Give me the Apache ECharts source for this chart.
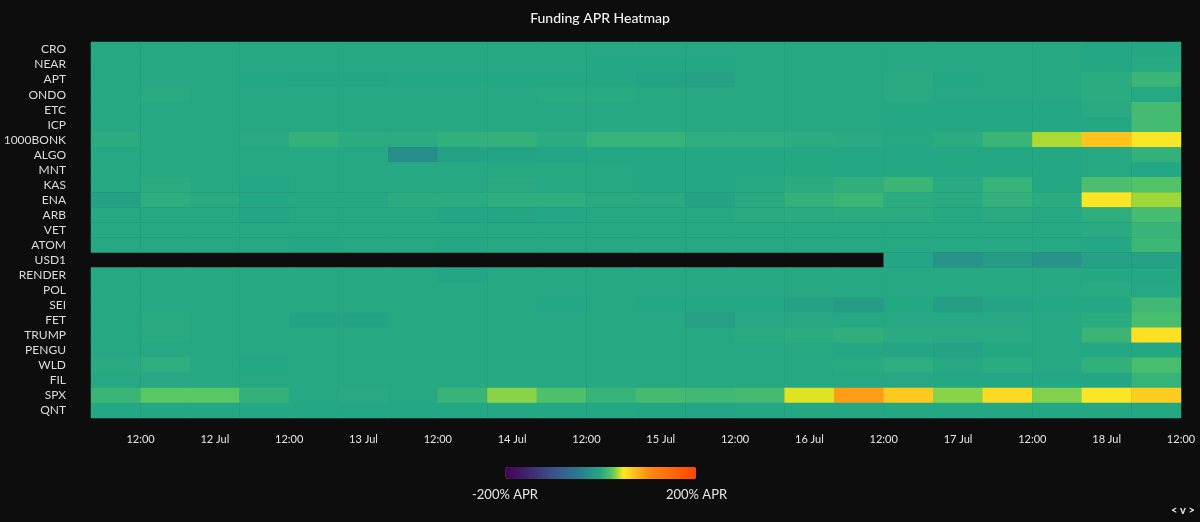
<!DOCTYPE html>
<html><head><meta charset="utf-8">
<style>html,body{margin:0;padding:0;background:#0d0d0d;overflow:hidden}#c{width:1200px;height:522px}</style>
<script src="https://cdn.jsdelivr.net/npm/echarts@6/dist/echarts.min.js"></script>
</head><body><div id="c"></div>
<script>
const FONT = 'Lato, sans-serif';
const columns = ['11 04h','11 12h','11 20h','12 04h','12 12h','12 20h','13 04h','13 12h','13 20h','14 04h','14 12h','14 20h','15 04h','15 12h','15 20h','16 04h','16 12h','16 20h','17 04h','17 12h','17 20h','18 04h'];
const timeLabels = ['','','12:00','','','12 Jul','','','12:00','','','13 Jul','','','12:00','','','14 Jul','','','12:00','','','15 Jul','','','12:00','','','16 Jul','','','12:00','','','17 Jul','','','12:00','','','18 Jul','','','12:00'];
const symbols = ['CRO','NEAR','APT','ONDO','ETC','ICP','1000BONK','ALGO','MNT','KAS','ENA','ARB','VET','ATOM','USD1','RENDER','POL','SEI','FET','TRUMP','PENGU','WLD','FIL','SPX','QNT'];
const CRO    = [1,1,1,1,1,1,1,1,1,1,1,1,1,1,1,1,1,1,1,1,0,0];
const NEAR   = [1,1,1,1,1,1,1,1,1,1,-1,0,0,1,1,1,1,1,1,1,0,2];
const APT    = [1,1,1,-1,-2,-2,0,0,0,0,0,-4,-6,1,1,1,2,0,1,1,3,10];
const ONDO   = [1,2,1,1,1,1,1,1,1,2,2,1,1,1,1,1,2,1,1,1,3,1];
const ETC    = [1,1,1,1,1,1,1,1,1,1,1,1,1,1,1,1,0,0,0,0,2,14];
const ICP    = [1,1,1,1,1,1,1,1,1,1,1,1,1,1,1,1,0,0,0,0,0,14];
const BONK   = [3,1,1,2,7,3,3,6,7,3,8,8,4,4,3,2,1,3,10,36,68,47];
const ALGO   = [1,1,1,1,1,1,-28,-6,-5,-3,-1,0,0,0,0,0,-1,0,0,0,1,7];
const MNT    = [1,1,1,1,1,1,1,1,1,1,1,0,0,0,0,0,0,0,0,0,1,-1];
const KAS    = [1,3,1,-1,1,1,1,1,2,1,1,0,0,1,3,5,10,2,8,0,17,20];
const ENA    = [-6,4,2,0,1,1,3,3,4,4,2,2,-4,2,7,10,3,2,7,3,47,34];
const ARB    = [1,1,1,-2,1,1,1,-2,-2,-1,1,1,1,2,2,3,3,1,2,1,4,15];
const VET    = [1,1,1,1,1,1,1,1,1,1,1,1,1,1,1,1,1,1,1,1,2,9];
const ATOM   = [1,1,1,1,-1,1,1,-1,1,1,1,1,1,1,1,1,1,1,1,1,0,11];
const USD1   = [null,null,null,null,null,null,null,null,null,null,null,null,null,null,null,null,-3,-22,-12,-22,-6,-6];
const RENDER = [1,1,1,1,1,1,1,-2,1,1,1,1,1,1,1,1,1,1,1,1,0,0];
const POL    = [1,1,1,1,1,1,1,1,1,1,1,1,1,1,1,1,1,1,1,1,2,1];
const SEI    = [1,1,1,1,1,1,1,1,1,-1,1,0,0,0,-6,-12,0,-10,-5,0,-1,12];
const FET    = [1,2,1,1,-5,-4,1,1,1,1,1,1,-9,1,1,1,1,1,1,1,3,16];
const TRUMP  = [1,2,1,1,1,1,1,1,1,1,1,1,1,2,3,5,2,2,2,1,10,52];
const PENGU  = [1,1,1,1,1,1,1,1,1,1,1,1,1,1,1,0,-2,-7,0,1,0,0];
const WLD    = [2,4,1,0,1,1,1,1,1,1,1,1,1,1,1,2,4,1,3,1,6,16];
const FIL    = [1,1,1,1,1,1,1,1,1,1,1,1,1,1,1,1,1,0,-1,-1,-2,8];
const SPX    = [10,23,23,7,1,2,1,9,31,18,8,14,12,14,43,90,65,31,55,30,47,62];
const QNT    = [-1,-1,-1,-1,0,0,0,0,0,0,0,-2,-3,0,0,0,0,0,0,0,0,0];
const rows = [CRO,NEAR,APT,ONDO,ETC,ICP,BONK,ALGO,MNT,KAS,ENA,ARB,VET,ATOM,USD1,RENDER,POL,SEI,FET,TRUMP,PENGU,WLD,FIL,SPX,QNT];
const colorStops = [[-200,'#440154'],[-100,'#3b528b'],[-50,'#2a788e'],[0,'#24a884'],[25,'#5ec962'],[40,'#c8e020'],[47,'#fde725'],[100,'#ff8c10'],[200,'#ff4500']];

function rgb(h){return [1,3,5].map(i=>parseInt(h.slice(i,i+2),16));}
const ramp=[];
for(let v=-200;v<=200;v+=2.5){
  let k=0; while(k<colorStops.length-2&&v>colorStops[k+1][0])k++;
  const [a,ca]=colorStops[k],[b,cb]=colorStops[k+1],t=(v-a)/(b-a),A=rgb(ca),B=rgb(cb);
  ramp.push('rgb('+A.map((x,i)=>Math.round(x+(B[i]-x)*t)).join(',')+')');
}
const cells=[];
rows.forEach((r,y)=>r.forEach((v,x)=>{if(v!==null)cells.push([x,y,v]);}));

const chart=echarts.init(document.getElementById('c'));
chart.setOption({
  backgroundColor:'#0d0d0d',
  animation:false,
  textStyle:{fontFamily:FONT},
  title:{text:'Funding APR Heatmap',left:'center',top:6,textStyle:{color:'#f2f2f2',fontSize:14,fontWeight:500,fontFamily:FONT}},
  grid:{left:91,right:19,top:42,height:376,containLabel:false},
  xAxis:[
    {type:'category',data:columns,position:'bottom',axisLabel:{show:false},axisTick:{show:false},axisLine:{show:false},splitLine:{show:false}},
    {type:'category',data:timeLabels,position:'bottom',boundaryGap:false,axisTick:{show:false},axisLine:{show:false},splitLine:{show:false},
     axisLabel:{interval:0,margin:16,color:'#e6e6e6',fontSize:11,fontFamily:FONT,hideOverlap:false,showMinLabel:true,showMaxLabel:true,alignMaxLabel:'center'}}
  ],
  yAxis:{type:'category',data:symbols,inverse:true,axisTick:{show:false},axisLine:{show:false},splitLine:{show:false},
     axisLabel:{interval:0,margin:25,color:'#dcdcdc',fontSize:12,fontFamily:FONT}},
  visualMap:{type:'continuous',min:-200,max:200,calculable:false,orient:'horizontal',left:505.5,top:467,itemWidth:12,itemHeight:190.5,showLabel:false,text:null,
     padding:0,inRange:{color:ramp},seriesIndex:0},
  series:[{type:'heatmap',xAxisIndex:0,yAxisIndex:0,data:cells,itemStyle:{borderWidth:0},emphasis:{disabled:true},progressive:0}],
  graphic:[
    {type:'text',left:472,top:488,style:{text:'-200% APR',fill:'#e6e6e6',font:'13px '+FONT}},
    {type:'text',left:666,top:488,style:{text:'200% APR',fill:'#e6e6e6',font:'13px '+FONT}},
    {type:'text',left:1171,top:505,style:{text:'< v >',fill:'#e6e6e6',font:'bold 11px '+FONT}}
  ]
});
</script></body></html>
